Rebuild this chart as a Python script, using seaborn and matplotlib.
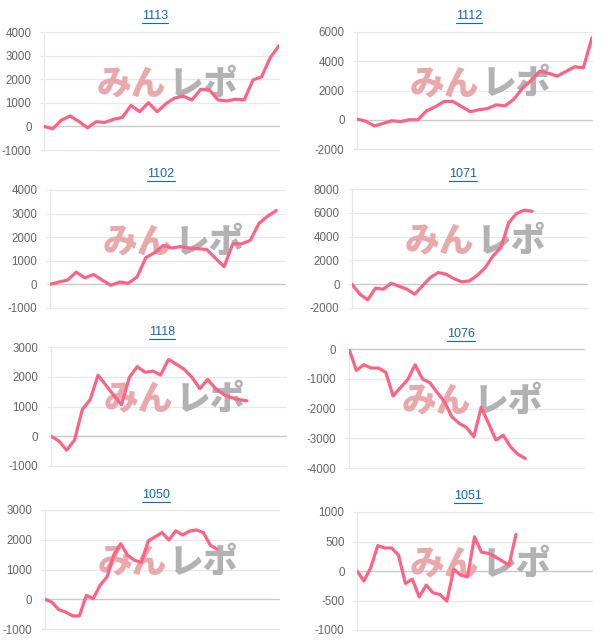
import numpy as np
import pandas as pd
import matplotlib
matplotlib.use("Agg")
import matplotlib.pyplot as plt
from matplotlib.lines import Line2D
import seaborn as sns

sns.set_style("white")
plt.rcParams['font.family'] = ['Liberation Sans', 'Noto Sans CJK JP', 'DejaVu Sans']
plt.rcParams['axes.unicode_minus'] = False

# ---- data -------------------------------------------------------------
titles = ["1113", "1112", "1102", "1071", "1118", "1076", "1050", "1051"]

s1113 = [0, -100, 270, 440, 210, -60, 200, 170, 300, 380, 890, 620, 1010, 620,
         960, 1200, 1280, 1120, 1570, 1540, 1120, 1080, 1150, 1120, 1960, 2100,
         2920, 3420]
s1112 = [50, -100, -430, -250, -70, -130, 0, 0, 610, 890, 1250, 1250, 910, 550,
         680, 770, 1020, 950, 1390, 2140, 2680, 3320, 3180, 2980, 3300, 3620,
         3550, 5600]
s1102 = [0, 100, 180, 520, 280, 420, 180, -40, 100, 50, 310, 1130, 1340, 1650,
         1540, 1600, 1540, 1510, 1480, 1110, 750, 1720, 1720, 1860, 2580, 2890,
         3130]
s1071 = [0, -840, -1310, -330, -420, 80, -170, -420, -840, -140, 560, 980, 840,
         470, 200, 280, 750, 1390, 2370, 3070, 5160, 5940, 6220, 6130]
s1118 = [0, -160, -470, -130, 900, 1230, 2050, 1720, 1380, 1060, 1980, 2340,
         2150, 2190, 2060, 2580, 2420, 2250, 1980, 1600, 1910, 1600, 1410, 1300,
         1230, 1190]
s1076 = [0, -720, -530, -640, -640, -780, -1580, -1300, -1030, -530, -1010,
         -1130, -1460, -1770, -2280, -2500, -2640, -2950, -1960, -2500, -3060,
         -2900, -3290, -3540, -3680]
s1050 = [0, -100, -350, -430, -560, -560, 130, 20, 470, 750, 1480, 1870, 1480,
         1310, 1240, 1960, 2100, 2240, 1990, 2300, 2160, 2290, 2330, 2240, 1820,
         1680]
s1051 = [0, -170, 60, 430, 390, 390, 270, -210, -140, -440, -240, -370, -400,
         -510, 30, -70, -100, 580, 320, 300, 240, 170, 100, 620]

series = [s1113, s1112, s1102, s1071, s1118, s1076, s1050, s1051]
# number of x categories on each chart's axis
slots = [28, 28, 28, 31, 31, 33, 35, 35]
yticks = [
    [-1000, 0, 1000, 2000, 3000, 4000],
    [-2000, 0, 2000, 4000, 6000],
    [-1000, 0, 1000, 2000, 3000, 4000],
    [-2000, 0, 2000, 4000, 6000, 8000],
    [-1000, 0, 1000, 2000, 3000],
    [-4000, -3000, -2000, -1000, 0],
    [-1000, 0, 1000, 2000, 3000],
    [-1000, -500, 0, 500, 1000],
]

# ---- layout (pixels) --------------------------------------------------
W, H = 610, 644
boxes = [(44, 279, 32, 150), (357, 592, 32, 149),
         (50, 285, 190, 308), (352, 587, 189, 308),
         (51, 286, 347, 466), (349, 584, 349, 468),
         (45, 279, 510, 629), (357, 592, 512, 630)]
title_pos = [(155, 16), (469, 16), (161, 174), (463, 174),
             (162, 332), (461, 334), (156, 495), (468, 496)]

LINE = "#ff6384"
GRID = "#e8e8e8"
ZERO = "#c9c9c9"
TXT = "#666666"
LINK = "#1565c0"

fig = plt.figure(figsize=(W / 100, H / 100), dpi=100)
fig.patch.set_facecolor("white")

title_texts = []
for i in range(8):
    x0, x1, y0, y1 = boxes[i]
    ax = fig.add_axes([x0 / W, 1 - y1 / H, (x1 - x0) / W, (y1 - y0) / H])
    df = pd.DataFrame({"x": np.arange(len(series[i])), "y": series[i]})
    # watermark
    ax.text(0.52, 0.56, "みん", transform=ax.transAxes, fontsize=25,
            fontweight="heavy", color="#e9a8ac", ha="right", va="center",
            family=["Noto Sans CJK JP"], zorder=1)
    ax.text(0.53, 0.56, "レポ", transform=ax.transAxes, fontsize=25,
            fontweight="heavy", color="#b2b2b2", ha="left", va="center",
            family=["Noto Sans CJK JP"], zorder=1)
    sns.lineplot(data=df, x="x", y="y", ax=ax, color=LINE, linewidth=2.3,
                 zorder=3)
    ax.set_xlim(0, slots[i] - 1)
    yt = yticks[i]
    ax.set_ylim(yt[0], yt[-1])
    ax.set_yticks(yt)
    ax.set_yticklabels([str(v) for v in yt])
    ax.set_xticks([])
    ax.set_xlabel("")
    ax.set_ylabel("")
    for v in yt:
        ax.axhline(v, color=ZERO if v == 0 else GRID, lw=1.0 if v == 0 else 0.9,
                   zorder=0.5, clip_on=False)
    for s in ["top", "right", "bottom"]:
        ax.spines[s].set_visible(False)
    ax.spines["left"].set_color(GRID)
    ax.spines["left"].set_linewidth(0.9)
    ax.tick_params(axis="y", length=3, color=GRID, labelsize=8.3,
                   labelcolor=TXT, pad=6, left=True)
    tx, ty = title_pos[i]
    t = fig.text(tx / W, 1 - ty / H, titles[i], ha="center", va="center",
                 fontsize=9, color=LINK)
    title_texts.append(t)

fig.canvas.draw()
r = fig.canvas.get_renderer()
for t in title_texts:
    bb = t.get_window_extent(r)
    yy = bb.y0 - 1
    fig.add_artist(Line2D([bb.x0 / W, bb.x1 / W], [yy / H, yy / H],
                          transform=fig.transFigure, color=LINK, lw=0.8))

fig.savefig("out.png", dpi=100, facecolor="white")
